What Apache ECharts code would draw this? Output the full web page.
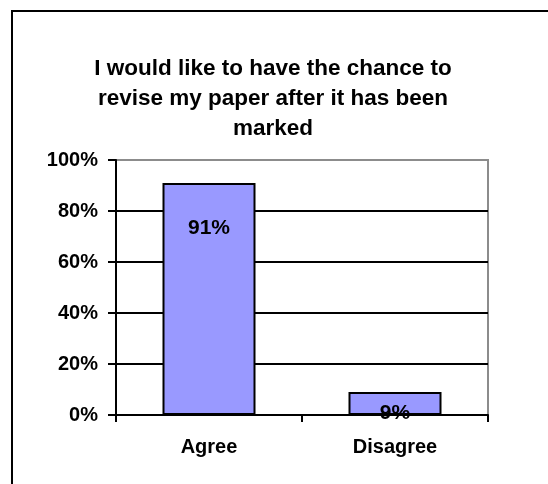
<!DOCTYPE html>
<html>
<head>
<meta charset="utf-8">
<script src="https://cdn.jsdelivr.net/npm/echarts@6/dist/echarts.min.js"></script>
<style>
  html, body { margin: 0; padding: 0; background: #fff; }
  #chart { width: 548px; height: 484px; }
</style>
</head>
<body>
<div id="chart"></div>
<script>
// Survey result: share of respondents per answer
const categories = ['Agree', 'Disagree'];
const percentValues = [91, 9];
const yTicks = [0, 20, 40, 60, 80, 100];
const titleText = 'I would like to have the chance to\nrevise my paper after it has been\nmarked';

const FONT = '"Liberation Sans", Arial, sans-serif';
// distance of each value label below the bar top
const labelDistance = [35, 11];

const chart = echarts.init(document.getElementById('chart'), null, { renderer: 'canvas' });

chart.setOption({
  backgroundColor: '#ffffff',
  animation: false,
  title: {
    text: titleText,
    left: 268,
    top: 49,
    textAlign: 'center',
    textStyle: {
      fontFamily: FONT,
      fontWeight: 'bold',
      fontSize: 22.5,
      lineHeight: 30,
      color: '#000'
    }
  },
  graphic: [
    { type: 'line', shape: { x1: 12, y1: 11, x2: 548, y2: 11 }, style: { stroke: '#000', lineWidth: 2 } },
    { type: 'line', shape: { x1: 12, y1: 10, x2: 12, y2: 484 }, style: { stroke: '#000', lineWidth: 2 } }
  ],
  grid: {
    left: 116,
    right: 60,
    top: 160,
    bottom: 69,
    show: true,
    borderColor: '#8c8c8c',
    borderWidth: 2,
    backgroundColor: 'transparent'
  },
  xAxis: {
    type: 'category',
    data: categories,
    axisLine: { show: true, lineStyle: { color: '#000', width: 2 } },
    axisTick: { show: true, length: 7, alignWithLabel: false, lineStyle: { color: '#000', width: 2 } },
    axisLabel: {
      margin: 22,
      fontFamily: FONT,
      fontWeight: 'bold',
      fontSize: 20,
      color: '#000'
    },
    splitLine: { show: false }
  },
  yAxis: {
    type: 'value',
    min: yTicks[0],
    max: yTicks[yTicks.length - 1],
    interval: yTicks[1] - yTicks[0],
    axisLine: { show: true, lineStyle: { color: '#000', width: 2 } },
    axisTick: { show: true, length: 8, lineStyle: { color: '#000', width: 2 } },
    axisLabel: {
      margin: 18,
      formatter: '{value}%',
      fontFamily: FONT,
      fontWeight: 'bold',
      fontSize: 20,
      color: '#000'
    },
    splitLine: {
      show: true,
      lineStyle: { color: ['#000', '#000', '#000', '#000', '#000', '#8c8c8c'], width: 2 }
    }
  },
  series: [{
    type: 'bar',
    barWidth: '50%',
    data: percentValues.map((v, i) => ({
      value: v,
      label: {
        show: true,
        position: 'insideTop',
        distance: labelDistance[i],
        formatter: v + '%',
        fontFamily: FONT,
        fontWeight: 'bold',
        fontSize: 21,
        lineHeight: 20,
        color: '#000'
      }
    })),
    itemStyle: { color: '#9999ff', borderColor: '#000', borderWidth: 2 }
  }]
});
</script>
</body>
</html>
